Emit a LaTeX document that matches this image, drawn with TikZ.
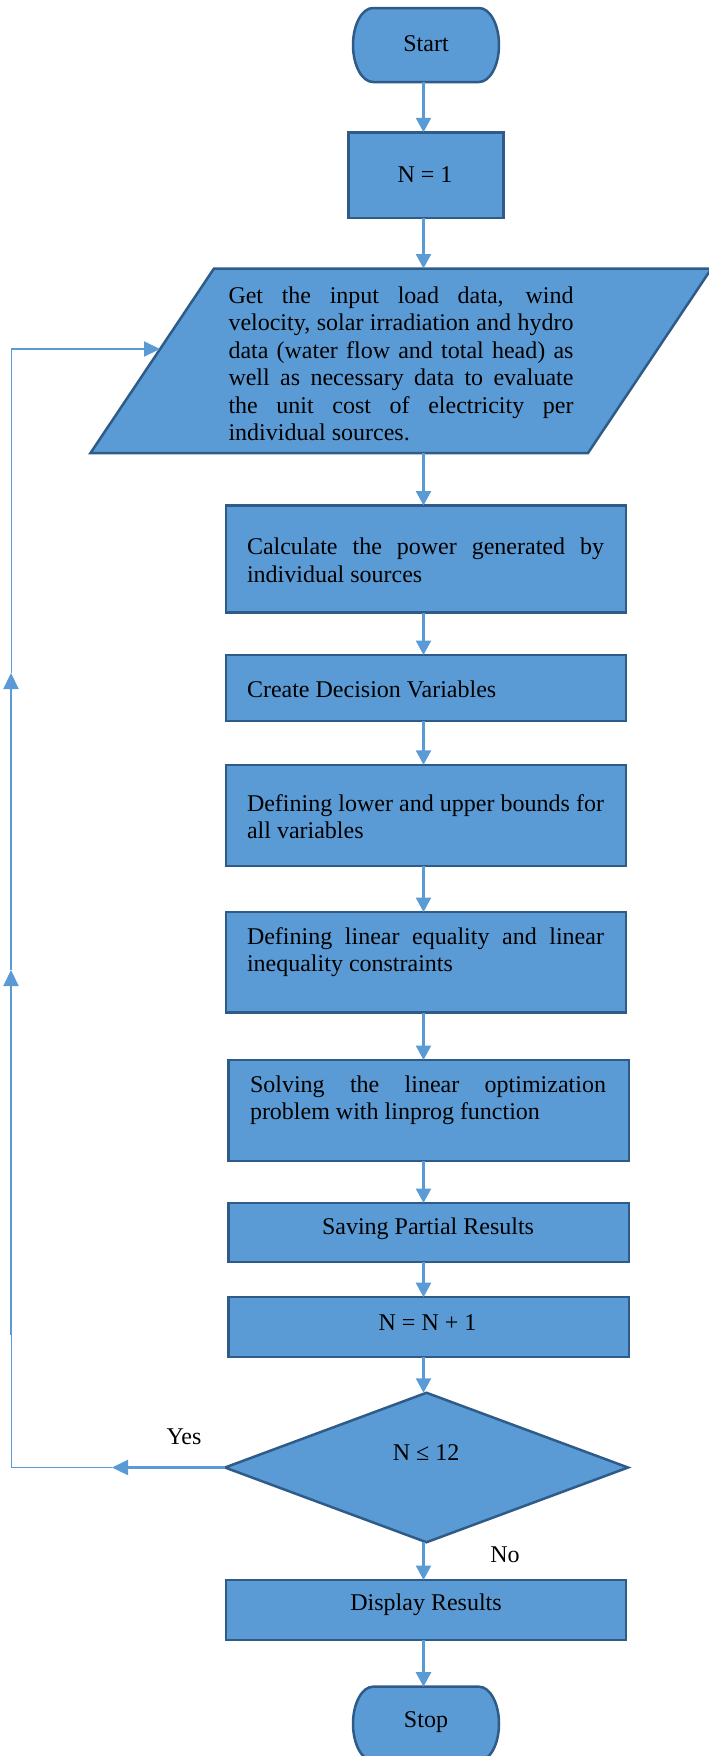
\documentclass[tikz,border=0pt]{standalone}
\usepackage{fontspec}
\setmainfont{Liberation Serif}
\usetikzlibrary{shapes.geometric,arrows.meta,calc}
\definecolor{fillb}{HTML}{5B9BD5}
\definecolor{edgeb}{HTML}{2E5B88}
\definecolor{arrb}{HTML}{5B9BD5}
\newcommand\termshape[1]{%
  \filldraw[fill=fillb, draw=edgeb, line width=2.5pt]
   ($(#1.north west)+(20,0)$) -- ($(#1.north east)+(-20,0)$)
   .. controls ($(#1.north east)+(-9,0)$) and ($(#1.east)+(0,-20.4)$) .. (#1.east)
   .. controls ($(#1.east)+(0,20.4)$) and ($(#1.south east)+(-9,0)$) .. ($(#1.south east)+(-20,0)$)
   -- ($(#1.south west)+(20,0)$)
   .. controls ($(#1.south west)+(9,0)$) and ($(#1.west)+(0,20.4)$) .. (#1.west)
   .. controls ($(#1.west)+(0,-20.4)$) and ($(#1.north west)+(9,0)$) .. cycle;}
\begin{document}
\begin{tikzpicture}[x=1pt,y=-1pt,
  box/.style={draw=edgeb, fill=fillb, line width=2.5pt, inner sep=0pt, outer sep=0pt},
  term/.style={inner sep=0pt, outer sep=0pt, minimum width=146pt, minimum height=74pt},
  txt/.style={inner sep=0pt, outer sep=0pt, font=\fontsize{24}{27.5}\selectfont, align=left},
  arr/.style={draw=arrb, line width=2.5pt, -{Triangle[length=14.5pt,width=15pt]}},
  looparr/.style={draw=arrb, line width=2.2pt, -{Triangle[length=16pt,width=15pt]}},
  thinline/.style={draw=arrb, line width=1pt}
]
\useasboundingbox (0,0) rectangle (709,1756);
\coordinate (ax) at (423.5,0);

% shapes
\node[term] (start) at (426,45) {};
\termshape{start}
\node[box, minimum width=155pt, minimum height=85.5pt] (n1) at (426,175) {};
\coordinate (pTL) at (214,268.5);
\coordinate (pTR) at (711.5,268.5);
\coordinate (pBR) at (588,453);
\coordinate (pBL) at (90.5,453);
\filldraw[fill=fillb, draw=edgeb, line width=2.5pt, line join=miter] (pTL) -- (pTR) -- (pBR) -- (pBL) -- cycle;
\coordinate (pTop) at (423.5,268.5);
\coordinate (pBot) at (423.5,453);
\coordinate (pLeft) at (160,349);
\node[box, minimum width=400pt, minimum height=107pt] (calc) at (426,559) {};
\node[box, minimum width=400pt, minimum height=66pt] (create) at (426,688) {};
\node[box, minimum width=400pt, minimum height=101pt] (lower) at (426,815.3) {};
\node[box, minimum width=400pt, minimum height=100.5pt] (lineq) at (426,962.3) {};
\node[box, minimum width=400.5pt, minimum height=101pt] (solve) at (428.7,1110.5) {};
\node[box, minimum width=400.5pt, minimum height=59pt] (save) at (428.7,1232.5) {};
\node[box, minimum width=400.5pt, minimum height=59.6pt] (incr) at (428.7,1327) {};
\node[box, shape=diamond, minimum width=403pt, minimum height=149.5pt] (dec) at (426.5,1467.5) {};
\node[box, minimum width=400pt, minimum height=60pt] (disp) at (426,1610) {};
\node[term] (stop) at (426,1723.7) {};
\termshape{stop}

% texts
\node[txt] (tstart) at (426,44) {Start};
\node[txt] (tn1) at (425,175) {N = 1};
\node[txt, anchor=west] (tpara) at (228.5,363.8) {%
\hbox to 345pt{Get the input load data, wind}\\
\hbox to 345pt{velocity, solar irradiation and hydro}\\
\hbox to 345pt{data (water flow and total head) as}\\
\hbox to 345pt{well as necessary data to evaluate}\\
\hbox to 345pt{the unit cost of electricity per}\\
individual sources.};
\node[txt, anchor=west] (tcalc) at (247,560.4) {%
\hbox to 357pt{Calculate the power generated by}\\
individual sources};
\node[txt, anchor=west] (tcreate) at (247,689.6) {Create Decision Variables};
\node[txt, anchor=west] (tlower) at (247,816.6) {%
\hbox to 357pt{Defining lower and upper bounds for}\\
all variables};
\node[txt, anchor=west] (tlineq) at (247,952) {%
\hbox to 357pt{Defining linear equality and linear}\\
inequality constraints};
\node[txt, anchor=west] (tsolve) at (250,1100) {%
\hbox to 356pt{Solving the linear optimization}\\
problem with linprog function};
\node[txt] (tsave) at (428,1229) {Saving Partial Results};
\node[txt] (tincr) at (427.5,1323) {N = N + 1};
\node[txt] (tdec) at (426,1453) {N ≤ 12};
\node[txt] (tdisp) at (426,1604.5) {Display Results};
\node[txt] (tstop) at (426,1722) {Stop};
\node[txt] (tyes) at (184,1437) {Yes};
\node[txt] (tno) at (505,1555) {No};

% main connectors
\draw[arr] (start.south -| ax) -- (n1.north -| ax);
\draw[arr] (n1.south -| ax) -- (pTop);
\draw[arr] (pBot) -- (calc.north -| ax);
\draw[arr] (calc.south -| ax) -- (create.north -| ax);
\draw[arr] (create.south -| ax) -- (lower.north -| ax);
\draw[arr] (lower.south -| ax) -- (lineq.north -| ax);
\draw[arr] (lineq.south -| ax) -- (solve.north -| ax);
\draw[arr] (solve.south -| ax) -- (save.north -| ax);
\draw[arr] (save.south -| ax) -- (incr.north -| ax);
\draw[arr] (incr.south -| ax) -- (dec.north -| ax);
\draw[arr] (dec.south -| ax) -- (disp.north -| ax);
\draw[arr] (disp.south -| ax) -- (stop.north -| ax);

% loop back
\coordinate (yesEnd) at (112,1467.5);
\coordinate (c1) at (11,1467.5);
\coordinate (c2) at (11,1335);
\coordinate (c3) at (11,970);
\coordinate (c4) at (11,673);
\coordinate (c5) at (11,349);
\draw[looparr] (dec.west) -- (yesEnd);
\draw[thinline] (yesEnd) -- (c1) -- (c2);
\draw[looparr] (c2) -- (c3);
\draw[looparr] (c3) -- (c4);
\draw[thinline] (c4) -- (c5);
\draw[looparr] (c5) -- (pLeft);
\end{tikzpicture}
\end{document}
